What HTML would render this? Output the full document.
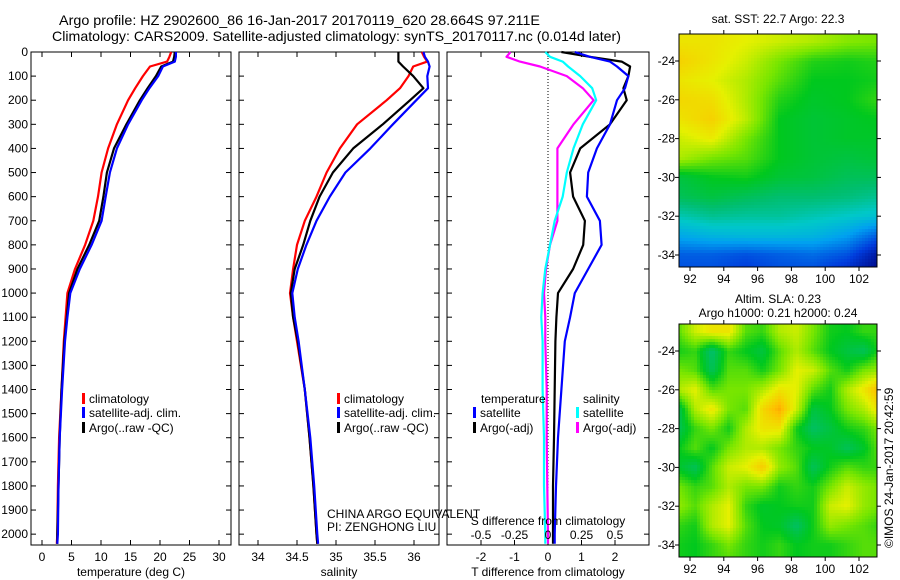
<!DOCTYPE html>
<html><head><meta charset="utf-8"><style>
html,body{margin:0;padding:0;background:#fff}
svg{display:block;font-family:"Liberation Sans",sans-serif}
text{font-size:12px;fill:#000}
</style></head><body>
<svg id="fig" width="900" height="580" viewBox="0 0 900 580" xmlns="http://www.w3.org/2000/svg">
<text x="59" y="25" textLength="481" lengthAdjust="spacingAndGlyphs" style="font-size:14px">Argo profile: HZ 2902600_86 16-Jan-2017 20170119_620 28.664S 97.211E</text>
<text x="52" y="41" textLength="569" lengthAdjust="spacingAndGlyphs" style="font-size:14px">Climatology: CARS2009. Satellite-adjusted climatology: synTS_20170117.nc (0.014d later)</text>
<g id="p1"></g>
<g id="p2"></g>
<g id="p3"></g>
<g id="m1"></g>
<g id="m2"></g>
<text x="778" y="23" text-anchor="middle">sat. SST: 22.7 Argo: 22.3</text>
<text x="778" y="303" text-anchor="middle">Altim. SLA: 0.23</text>
<text x="778" y="317" text-anchor="middle">Argo h1000: 0.21 h2000: 0.24</text>
<text transform="translate(893,548) rotate(-90)">©IMOS 24-Jan-2017 20:42:59</text>
<text x="327" y="518">CHINA ARGO EQUIVALENT</text>
<text x="327" y="531">PI: ZENGHONG LIU</text>
</svg>
<script>
const depths=[0,20,40,60,100,150,200,300,400,500,600,700,800,900,1000,1100,1200,1400,1600,1800,2000,2040];
const tempClim=[21.9,21.6,21.2,18.3,17.1,15.8,14.6,12.7,11.2,10.1,9.5,8.7,7.3,5.6,4.3,4.0,3.7,3.3,2.9,2.7,2.6,2.5];
const tempSat=[22.7,22.7,22.5,20.5,19.7,18.2,16.9,14.6,12.7,11.5,10.8,10.1,8.4,6.4,4.8,4.3,3.9,3.4,3.0,2.8,2.7,2.6];
const tempArgo=[22.5,22.4,22.2,20.2,19.3,17.9,16.6,14.3,12.2,11.0,10.4,9.7,8.0,6.0,4.6,4.2,3.8,3.3,3.0,2.8,2.6,2.6];
const salClim=[36.10,36.13,36.17,35.99,35.93,35.82,35.65,35.27,35.05,34.88,34.75,34.60,34.50,34.45,34.41,34.45,34.50,34.60,34.66,34.71,34.75,34.76];
const salSat=[36.12,36.14,36.18,36.20,36.17,36.18,36.03,35.73,35.44,35.12,34.92,34.75,34.62,34.51,34.44,34.47,34.52,34.60,34.67,34.72,34.76,34.77];
const salArgo=[35.80,35.80,35.80,35.86,35.99,36.12,35.95,35.60,35.22,34.96,34.79,34.67,34.58,34.47,34.42,34.45,34.51,34.60,34.66,34.71,34.75,34.76];
const tDiffSat=[0.8,1.25,1.85,2.06,2.4,2.3,2.06,1.85,1.46,1.2,1.16,1.55,1.6,1.2,0.8,0.66,0.5,0.4,0.3,0.24,0.2,0.2];
const tDiffArgo=[0.4,1.25,2.2,2.45,2.4,2.25,2.35,1.85,0.96,0.66,0.75,1.1,1.05,0.75,0.3,0.25,0.22,0.2,0.18,0.15,0.15,0.15];
const sDiffSat=[-0.02,0.015,0.11,0.15,0.24,0.33,0.36,0.26,0.19,0.14,0.11,0.05,0.015,-0.02,-0.04,-0.05,-0.04,-0.04,-0.03,-0.03,-0.02,-0.02];
const sDiffArgo=[-0.28,-0.31,-0.21,-0.06,0.14,0.26,0.34,0.19,0.07,0.07,0.07,0.07,0.015,-0.015,-0.03,-0.02,-0.02,-0.01,-0.01,-0.005,0,0];
const depthTicks=[0,100,200,300,400,500,600,700,800,900,1000,1100,1200,1300,1400,1500,1600,1700,1800,1900,2000];
const tempTicks=[0,5,10,15,20,25,30];
const salTicks=[34,34.5,35,35.5,36];
const tDiffTicks=[-2,-1,0,1,2];
const sDiffTicks=[-0.5,-0.25,0,0.25,0.5];
const sstLats=[-23,-24,-25,-26,-27,-28,-29,-30,-31,-32,-33,-34,-34.7];
const sstLons=[91.3,93.3,95.3,97.3,99.3,101.3,103.1];
const sstGrid=[
[0.72,0.72,0.70,0.68,0.66,0.63,0.62],
[0.75,0.72,0.68,0.62,0.57,0.56,0.57],
[0.72,0.70,0.66,0.60,0.55,0.55,0.56],
[0.74,0.73,0.66,0.57,0.54,0.55,0.58],
[0.72,0.75,0.67,0.55,0.53,0.54,0.55],
[0.68,0.71,0.62,0.55,0.53,0.54,0.54],
[0.66,0.62,0.60,0.55,0.53,0.52,0.53],
[0.52,0.55,0.56,0.53,0.52,0.50,0.50],
[0.50,0.52,0.50,0.48,0.48,0.47,0.45],
[0.42,0.45,0.44,0.44,0.42,0.40,0.38],
[0.32,0.35,0.36,0.36,0.35,0.30,0.20],
[0.20,0.20,0.18,0.20,0.22,0.18,0.06],
[0.18,0.18,0.15,0.18,0.18,0.12,0.03]];
const slaLats=[-23,-24,-25,-26,-27,-28,-29,-30,-31,-32,-33,-34,-34.7];
const slaLons=[91.3,92.3,93.3,94.3,95.3,96.3,97.3,98.3,99.3,100.3,101.3,102.3,103.1];
const slaGrid=[
[0.60,0.68,0.72,0.72,0.60,0.58,0.66,0.68,0.62,0.56,0.55,0.58,0.58],
[0.56,0.58,0.48,0.58,0.55,0.52,0.60,0.66,0.60,0.55,0.52,0.50,0.56],
[0.62,0.60,0.50,0.60,0.60,0.56,0.62,0.70,0.68,0.60,0.56,0.62,0.64],
[0.66,0.70,0.60,0.62,0.62,0.66,0.72,0.70,0.60,0.56,0.66,0.72,0.78],
[0.50,0.66,0.72,0.62,0.60,0.74,0.80,0.68,0.52,0.55,0.62,0.66,0.72],
[0.50,0.58,0.62,0.56,0.66,0.72,0.72,0.56,0.49,0.52,0.56,0.58,0.62],
[0.55,0.60,0.55,0.62,0.66,0.66,0.62,0.58,0.55,0.54,0.50,0.54,0.60],
[0.54,0.50,0.60,0.68,0.70,0.76,0.64,0.60,0.50,0.56,0.60,0.58,0.58],
[0.62,0.58,0.60,0.66,0.62,0.62,0.56,0.58,0.56,0.62,0.68,0.64,0.62],
[0.64,0.60,0.66,0.70,0.58,0.54,0.55,0.56,0.56,0.68,0.70,0.64,0.62],
[0.58,0.56,0.66,0.70,0.60,0.55,0.54,0.49,0.56,0.64,0.62,0.60,0.58],
[0.56,0.55,0.58,0.62,0.58,0.56,0.58,0.55,0.56,0.56,0.58,0.60,0.60],
[0.56,0.55,0.58,0.60,0.58,0.56,0.58,0.55,0.56,0.56,0.58,0.60,0.60]];
const mapLonTicks=[92,94,96,98,100,102];
const mapLatTicks=[-24,-26,-28,-30,-32,-34];

const NS='http://www.w3.org/2000/svg';
function mk(parent,tag,attrs){const e=document.createElementNS(NS,tag);for(const k in attrs)e.setAttribute(k,attrs[k]);parent.appendChild(e);return e;}
const TOP=52,BOT=545,D0=0,D1=2045;
const yD=d=>TOP+(d-D0)/(D1-D0)*(BOT-TOP);
function lin(d0,d1,r0,r1){return v=>r0+(v-d0)/(d1-d0)*(r1-r0);}

function panel(g,x0,x1,scaleX,ticks,fmt,xlabel,showDepth,name){
  mk(g,'rect',{x:x0,y:TOP,width:x1-x0,height:BOT-TOP,fill:'none',stroke:'#000','stroke-width':1});
  depthTicks.forEach(d=>{const y=yD(d);
    mk(g,'line',{x1:x0,x2:x0+5,y1:y,y2:y,stroke:'#000'});
    mk(g,'line',{x1:x1-5,x2:x1,y1:y,y2:y,stroke:'#000'});
    if(showDepth){const t=mk(g,'text',{x:x0-3,y:y+4,'text-anchor':'end'});t.textContent=d;
      
      }
  });
  ticks.forEach(v=>{const x=scaleX(v);
    mk(g,'line',{x1:x,x2:x,y1:TOP,y2:TOP+5,stroke:'#000'});
    mk(g,'line',{x1:x,x2:x,y1:BOT-5,y2:BOT,stroke:'#000'});
    const t=mk(g,'text',{x:x,y:BOT+16,'text-anchor':'middle'});t.textContent=fmt(v);
    
    
  });
  const t=mk(g,'text',{x:(x0+x1)/2,y:576,'text-anchor':'middle'});t.textContent=xlabel;
  
  
}
function series(g,vals,scaleX,color,w,name){
  const pts=vals.map((v,i)=>scaleX(v).toFixed(1)+','+yD(depths[i]).toFixed(1)).join(' ');
  const p=mk(g,'polyline',{points:pts,fill:'none',stroke:color,'stroke-width':w,'stroke-linejoin':'round'});
  
  
}
function legend(g,x,y,color,label,name){
  mk(g,'rect',{x:x,y:y-10,width:3,height:11,fill:color});
  const t=mk(g,'text',{x:x+7,y:y});t.textContent=label;
  
  
}
const p1=document.getElementById('p1');
const xT=lin(0,30,42,219);
panel(p1,31,231,xT,tempTicks,v=>v,'temperature (deg C)',true,'temperature');
series(p1,tempClim,xT,'#f00',2.2,'temperature-climatology-line');
series(p1,tempArgo,xT,'#000',2.2,'temperature-argo-line');
series(p1,tempSat,xT,'#00f',2.2,'temperature-satellite-line');
legend(p1,82,403,'#f00','climatology','legend-climatology');
legend(p1,82,417,'#00f','satellite-adj. clim.','legend-satellite');
legend(p1,82,432,'#000','Argo(..raw -QC)','legend-argo');
const p2=document.getElementById('p2');
const xS=lin(34,36,258,414);
panel(p2,239,439,xS,salTicks,v=>v,'salinity',false,'salinity');
series(p2,salClim,xS,'#f00',2.2,'salinity-climatology-line');
series(p2,salArgo,xS,'#000',2.2,'salinity-argo-line');
series(p2,salSat,xS,'#00f',2.2,'salinity-satellite-line');
legend(p2,337,403,'#f00','climatology','legend-climatology');
legend(p2,337,417,'#00f','satellite-adj. clim.','legend-satellite');
legend(p2,337,432,'#000','Argo(..raw -QC)','legend-argo');
const p3=document.getElementById('p3');
const xTd=lin(-2,2,481,615);
const xSd=lin(-0.5,0.5,481,615);
panel(p3,447,649,xTd,tDiffTicks,v=>v,'T difference from climatology',false,'t-diff');
mk(p3,'line',{x1:xTd(0),x2:xTd(0),y1:TOP,y2:BOT-40,stroke:'#000','stroke-dasharray':'1,2'});
series(p3,sDiffArgo,xSd,'#f0f',2.2,'s-diff-argo-line');
series(p3,sDiffSat,xSd,'#0ff',2.2,'s-diff-satellite-line');
series(p3,tDiffArgo,xTd,'#000',2.2,'t-diff-argo-line');
series(p3,tDiffSat,xTd,'#00f',2.2,'t-diff-satellite-line');
sDiffTicks.forEach(v=>{const t=mk(p3,'text',{x:xSd(v),y:539,'text-anchor':'middle'});t.textContent=v;
  
  });
{const t=mk(p3,'text',{x:548,y:525,'text-anchor':'middle'});t.textContent='S difference from climatology';
 
 }
{const t=mk(p3,'text',{x:481,y:403});t.textContent='temperature';
 
 }
{const t=mk(p3,'text',{x:583,y:403});t.textContent='salinity';
 
 }
legend(p3,473,417,'#00f','satellite','legend-t-satellite');
legend(p3,473,432,'#000','Argo(-adj)','legend-t-argo');
legend(p3,576,417,'#0ff','satellite','legend-s-satellite');
legend(p3,576,432,'#f0f','Argo(-adj)','legend-s-argo');

const stops=[[0,[0,0,120]],[0.15,[0,60,220]],[0.3,[0,160,240]],[0.4,[0,200,200]],[0.48,[0,190,110]],[0.55,[0,200,30]],[0.62,[120,230,0]],[0.7,[230,240,0]],[0.78,[255,190,0]],[0.9,[240,90,0]],[1,[200,0,0]]];
function cmap(v){v=Math.max(0,Math.min(1,v));for(let i=1;i<stops.length;i++){if(v<=stops[i][0]){const a=stops[i-1],b=stops[i],f=(v-a[0])/(b[0]-a[0]);
  return 'rgb('+a[1].map((c,k)=>Math.round(c+(b[1][k]-c)*f)).join(',')+')';}}return 'rgb(200,0,0)';}
function interp(arr,v){for(let i=0;i<arr.length-1;i++){const a=arr[i],b=arr[i+1];if((v-a)*(v-b)<=0)return i+(v-a)/(b-a);}return v<arr[0]===arr[0]<arr[1]?0:arr.length-1;}
function drawMap(g,lats,lons,grid,x0,x1,y0,y1,lat24y,lat34y,name){
  const xLon=lin(92,102,690,859);
  const yLat=lin(-24,-34,lat24y,lat34y);
  const c=3;
  for(let y=y0;y<y1;y+=c){for(let x=x0;x<x1;x+=c){
    const lon=92+(x+c/2-690)/(859-690)*10, lat=-24-(y+c/2-lat24y)/(lat34y-lat24y)*10;
    const fi=interp(lats,lat), fj=interp(lons,lon);
    const i0=Math.min(Math.floor(fi),lats.length-2),j0=Math.min(Math.floor(fj),lons.length-2);
    const di=fi-i0,dj=fj-j0;
    const v=grid[i0][j0]*(1-di)*(1-dj)+grid[i0+1][j0]*di*(1-dj)+grid[i0][j0+1]*(1-di)*dj+grid[i0+1][j0+1]*di*dj;
    mk(g,'rect',{x:x,y:y,width:Math.min(c,x1-x)+0.3,height:Math.min(c,y1-y)+0.3,fill:cmap(v)});
  }}
  mk(g,'rect',{x:x0,y:y0,width:x1-x0,height:y1-y0,fill:'none',stroke:'#000'});
  mapLonTicks.forEach(l=>{const x=xLon(l);
    mk(g,'line',{x1:x,x2:x,y1:y0-4,y2:y0,stroke:'#000'});mk(g,'line',{x1:x,x2:x,y1:y1,y2:y1+4,stroke:'#000'});
    const t=mk(g,'text',{x:x,y:y1+16,'text-anchor':'middle'});t.textContent=l;
    
    });
  mapLatTicks.forEach(l=>{const y=yLat(l);
    mk(g,'line',{x1:x0-4,x2:x0,y1:y,y2:y,stroke:'#000'});mk(g,'line',{x1:x1,x2:x1+4,y1:y,y2:y,stroke:'#000'});
    const t=mk(g,'text',{x:x0-4,y:y+4,'text-anchor':'end'});t.textContent=l;
    
    });
}
drawMap(document.getElementById('m1'),sstLats,sstLons,sstGrid,679,877,34,267,61,255,'sst-map');
drawMap(document.getElementById('m2'),slaLats,slaLons,slaGrid,679,877,324,557,351,545,'sla-map');
</script>
</body></html>
